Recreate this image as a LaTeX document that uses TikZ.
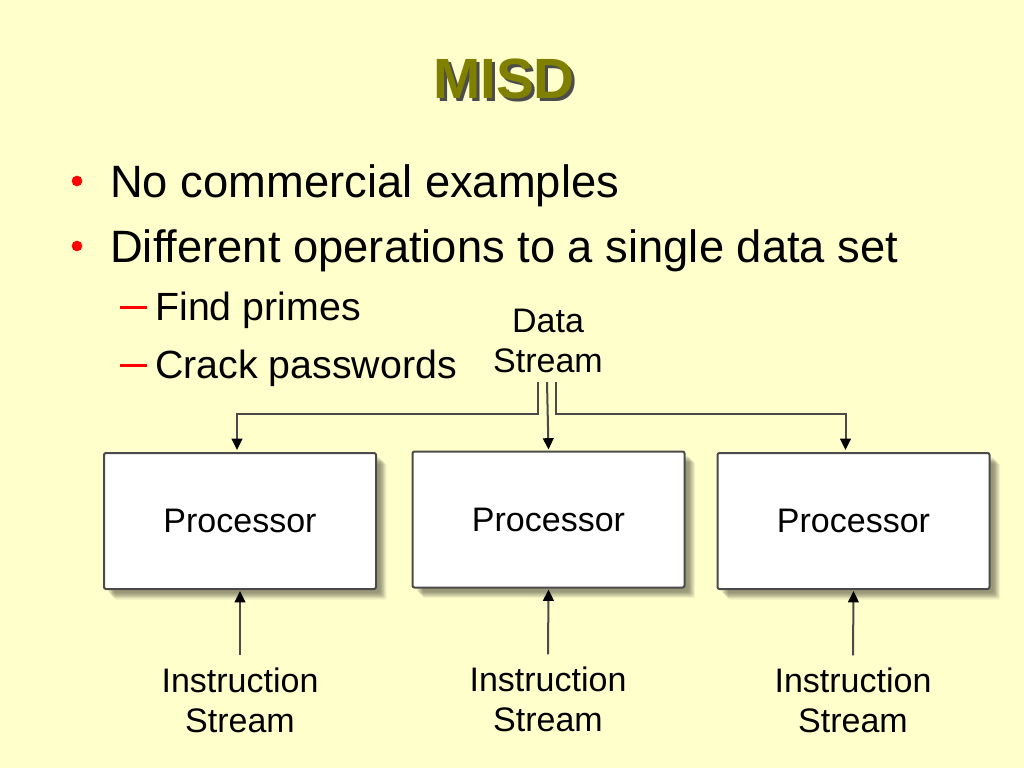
\documentclass[tikz,border=0pt]{standalone}
\usepackage{fontspec}
\setmainfont{Liberation Sans}
\usetikzlibrary{shadows,arrows.meta,calc}
\definecolor{bgyellow}{HTML}{FFFFCC}
\definecolor{olivet}{HTML}{808000}
\definecolor{linegray}{HTML}{4A4A4A}
\definecolor{bulletred}{HTML}{FF0000}
\tikzset{
  softshadow/.style={
    general shadow={shadow xshift=3pt, shadow yshift=-3pt, shadow scale=1.0, opacity=0.06, fill=black},
    general shadow={shadow xshift=4pt, shadow yshift=-4pt, shadow scale=1.0, opacity=0.08, fill=black},
    general shadow={shadow xshift=5pt, shadow yshift=-5pt, shadow scale=1.0, opacity=0.10, fill=black},
    general shadow={shadow xshift=6pt, shadow yshift=-6pt, shadow scale=1.0, opacity=0.10, fill=black},
    general shadow={shadow xshift=7pt, shadow yshift=-7pt, shadow scale=1.0, opacity=0.08, fill=black},
    general shadow={shadow xshift=8pt, shadow yshift=-8pt, shadow scale=1.0, opacity=0.06, fill=black}},
  proc/.style={draw=linegray, line width=1.5, fill=white, rounded corners=1.5,
    minimum width=272*0.75pt, minimum height=136*0.75pt, inner sep=0pt,
    softshadow,
    font=\fontsize{25.5}{30}\selectfont},
  lbl/.style={align=center, inner sep=0pt, font=\fontsize{25.5}{30}\selectfont},
  conn/.style={draw=linegray, line width=1.5},
  arr/.style={conn, -{Triangle[length=8.5pt,width=8pt,fill=black,color=black]}},
  bigtxt/.style={anchor=base west, inner sep=0pt, font=\fontsize{34}{40}\selectfont},
  subtxt/.style={anchor=base west, inner sep=0pt, font=\fontsize{29.5}{35}\selectfont},
}
\begin{document}
\begin{tikzpicture}[x=0.75pt,y=-0.75pt]
\fill[bgyellow] (0,0) rectangle (1024,768);
\useasboundingbox (0,0) rectangle (1024,768);
% title
\node[anchor=base, inner sep=0pt, text=black!70, font=\fontsize{42.6}{50}\selectfont\bfseries] (titleshadow) at (507,101) {MISD};
\node[anchor=base, inner sep=0pt, text=olivet, font=\fontsize{42.6}{50}\selectfont\bfseries] (title) at (504,98) {MISD};
% bullets
\fill[bulletred] (77,181) circle (4pt);
\fill[bulletred] (77,246) circle (4pt);
\node[bigtxt] (b1) at (110,197) {No commercial examples};
\node[bigtxt] (b2) at (110,262) {Different operations to a single data set};
\fill[bulletred] (120,306) rectangle (147,308.5);
\fill[bulletred] (120,364) rectangle (147,366.5);
\node[subtxt] (s1) at (155,320) {Find primes};
\node[subtxt] (s2) at (155,378) {Crack passwords};
% processors
\node[proc] (p1) at (240,521) {Processor};
\node[proc] (p2) at (548.5,519.5) {Processor};
\node[proc] (p3) at (853.5,521) {Processor};
% data stream
\node[lbl] (ds) at (548,341) {Data\\Stream};
\coordinate (dsl) at ($(ds.south)+(-10,9)$);
\coordinate (dsc) at ($(ds.south)+(-1,9)$);
\coordinate (dsr) at ($(ds.south)+(8,9)$);
\draw[arr] (dsl) -- ++(0,32) -| ($(p1.north)+(-3,-2)$);
\draw[arr] (dsc) -- ($(p2.north)+(0,-1)$);
\draw[arr] (dsr) -- ++(0,32) -| ($(p3.north)+(-8,-2)$);
% instruction streams
\node[lbl] (i1) at (240,700) {Instruction\\Stream};
\node[lbl] (i2) at (548,699) {Instruction\\Stream};
\node[lbl] (i3) at (853,700) {Instruction\\Stream};
\draw[arr] ($(i1.north)+(0,-12)$) -- ($(p1.south)+(0,1)$);
\draw[arr] ($(i2.north)+(0,-12)$) -- ($(p2.south)+(0,1)$);
\draw[arr] ($(i3.north)+(0,-12)$) -- ($(p3.south)+(0,1)$);
\end{tikzpicture}
\end{document}
